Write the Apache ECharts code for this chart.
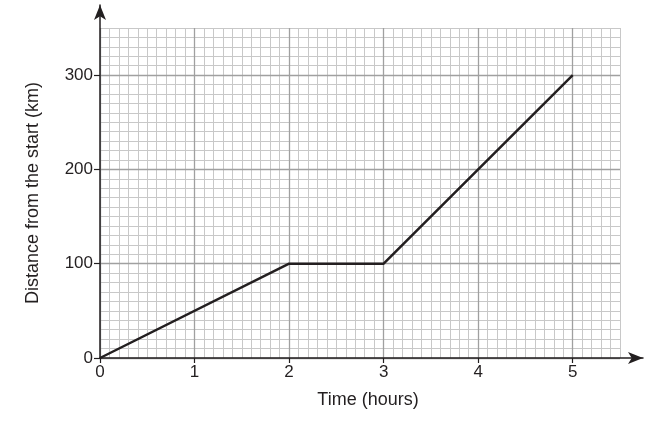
<!DOCTYPE html>
<html>
<head>
<meta charset="utf-8">
<script src="https://cdn.jsdelivr.net/npm/echarts@6/dist/echarts.min.js"></script>
<style>html,body{margin:0;padding:0;background:#fff}#c{width:647px;height:423px}</style>
</head>
<body>
<div id="c"></div>
<script>
var timeHours = [0, 2, 3, 5];
var distanceKm = [0, 100, 100, 300];
var xTickLabels = [0, 1, 2, 3, 4, 5];
var yTickLabels = [0, 100, 200, 300];
var xName = 'Time (hours)';
var yName = 'Distance from the start (km)';

var chart = echarts.init(document.getElementById('c'));
var font = 'Liberation Sans, Arial, sans-serif';
var ink = '#231f20';
chart.setOption({
  animation: false,
  grid: [
    {left: 100, right: 27, top: 28, bottom: 65},
    {left: 100, right: 4, top: 5, bottom: 65}
  ],
  xAxis: [
    {type: 'value', gridIndex: 0, min: 0, max: 5.5, interval: 1, z: 3,
     name: xName, nameLocation: 'middle', nameGap: 33,
     nameTextStyle: {fontFamily: font, fontSize: 18, color: ink, padding: [0, 0, 0, 16]},
     axisLine: {show: false},
     axisTick: {show: true, length: 5, inside: false, customValues: xTickLabels, lineStyle: {color: ink, width: 1.2}},
     axisLabel: {customValues: xTickLabels, fontFamily: font, fontSize: 17, color: ink, margin: 6},
     splitLine: {show: true, lineStyle: {color: '#a0a0a0', width: 1.3}}},
    {type: 'value', gridIndex: 0, min: 0, max: 5.5, interval: 0.1, z: 1,
     axisLine: {show: false}, axisTick: {show: false}, axisLabel: {show: false},
     splitLine: {show: true, lineStyle: {color: '#c8c8c8', width: 1}}},
    {type: 'value', gridIndex: 1, min: 0, max: 1, z: 4,
     axisLine: {show: true, symbol: ['none', 'arrow'], symbolSize: [9, 15], lineStyle: {color: ink, width: 1.5}},
     axisTick: {show: false}, axisLabel: {show: false}, splitLine: {show: false}}
  ],
  yAxis: [
    {type: 'value', gridIndex: 0, min: 0, max: 350, interval: 100, z: 3,
     name: yName, nameLocation: 'middle', nameGap: 58,
     nameTextStyle: {fontFamily: font, fontSize: 18, color: ink},
     axisLine: {show: false},
     axisTick: {show: true, length: 6, inside: false, customValues: yTickLabels, lineStyle: {color: ink, width: 1.2}},
     axisLabel: {customValues: yTickLabels, fontFamily: font, fontSize: 17, color: ink, margin: 7},
     splitLine: {show: true, lineStyle: {color: '#a0a0a0', width: 1.3}}},
    {type: 'value', gridIndex: 0, min: 0, max: 350, interval: 10, z: 1,
     axisLine: {show: false}, axisTick: {show: false}, axisLabel: {show: false},
     splitLine: {show: true, lineStyle: {color: '#c8c8c8', width: 1}}},
    {type: 'value', gridIndex: 1, min: 0, max: 1, z: 4,
     axisLine: {show: true, symbol: ['none', 'arrow'], symbolSize: [9, 15], lineStyle: {color: ink, width: 1.5}},
     axisTick: {show: false}, axisLabel: {show: false}, splitLine: {show: false}}
  ],
  series: [{
    type: 'line', xAxisIndex: 0, yAxisIndex: 0, z: 5,
    data: timeHours.map(function (t, i) { return [t, distanceKm[i]]; }),
    showSymbol: false, symbol: 'none',
    lineStyle: {color: ink, width: 2.5}
  }]
});
</script>
</body>
</html>
